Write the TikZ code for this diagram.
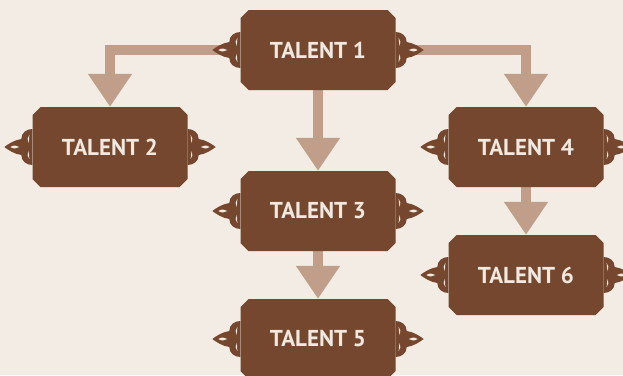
\documentclass[tikz,border=0pt]{standalone}
\usepackage{fontspec}
\setmainfont{PT Sans}
\usetikzlibrary{shapes.misc,arrows.meta,backgrounds}

\definecolor{parch}{HTML}{F2ECE4}
\definecolor{bark}{HTML}{75472E}
\definecolor{tan}{HTML}{C09E89}
\definecolor{cream}{HTML}{F1E9DF}

\tikzset{
  talent/.style={chamfered rectangle, chamfered rectangle sep=4pt,
    fill=bark, text=cream, minimum width=155pt, minimum height=80pt, inner sep=0pt,
    font=\bfseries\fontsize{23}{23}\selectfont},
  link/.style={tan, line width=10pt, line join=miter, -{Triangle[width=42pt,length=33pt]}},
  knot/.pic={
    \fill[bark] (0,-18) .. controls (6,-18) and (11,-14) .. (11,-8) .. controls (18,-7) and (24,-3) .. (28,0)
      .. controls (24,3) and (18,7) .. (11,8) .. controls (11,14) and (6,18) .. (0,18) -- cycle;
    \fill[cream] (13,0) .. controls (15.5,2) and (19,2) .. (22,0) .. controls (19,-2) and (15.5,-2) .. (13,0);
    \fill[cream] (3,-12) .. controls (5,-10) and (5,-7) .. (4,-4) .. controls (3,-7) and (3,-10) .. (3,-12);
    \fill[cream] (3,12) .. controls (5,10) and (5,7) .. (4,4) .. controls (3,7) and (3,10) .. (3,12);
  }
}

\begin{document}
\begin{tikzpicture}[x=1pt,y=-1pt]

  \useasboundingbox (0,0) rectangle (623,375);

  \node[talent] (t1) at (318,50) {TALENT 1};
  \node[talent] (t2) at (110,147) {TALENT 2};
  \node[talent] (t4) at (526,147) {TALENT 4};
  \node[talent] (t3) at (318,211) {TALENT 3};
  \node[talent] (t6) at (526,275) {TALENT 6};
  \node[talent] (t5) at (318,339) {TALENT 5};

  % ornaments on both sides
  \foreach \t in {t1,t2,t3,t4,t5,t6}{
    \pic at (\t.east) {knot};
    \pic[xscale=-1] at (\t.west) {knot};
  }

  \begin{scope}[on background layer]
    \fill[parch] (0,0) rectangle (623,375);
    \draw[link] (t1.west) -| (t2.north);
    \draw[link] (t1.east) -| (t4.north);
    \draw[link] (t1.south) -- (t3.north);
    \draw[link] (t3.south) -- (t5.north);
    \draw[link] (t4.south) -- (t6.north);
  \end{scope}
\end{tikzpicture}
\end{document}
